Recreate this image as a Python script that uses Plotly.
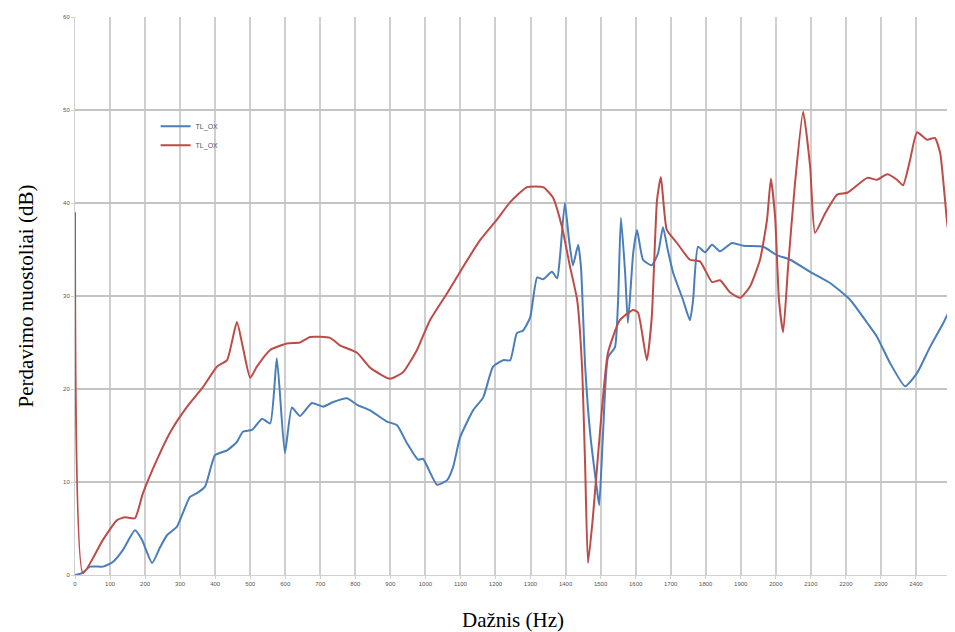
import plotly.graph_objects as go

# Frequency (Hz) / transmission loss (dB)
blue_f = [0, 20, 43, 80, 108, 137, 171, 191, 220, 243, 263, 291, 328, 348, 371, 400, 434, 462, 479, 505,
          534, 557, 576, 599, 619, 642, 676, 708, 737, 776, 805, 842, 890, 919, 947, 979, 993, 1033,
          1062, 1079, 1099, 1136, 1165, 1193, 1222, 1242, 1261, 1279, 1299, 1319, 1336, 1361, 1376,
          1384, 1398, 1410, 1421, 1436, 1444, 1456, 1470, 1490, 1496, 1507, 1521, 1541, 1550, 1558,
          1570, 1578, 1593, 1604, 1621, 1646, 1664, 1678, 1692, 1707, 1735, 1755, 1764, 1778, 1798,
          1818, 1841, 1875, 1907, 1964, 2003, 2041, 2098, 2155, 2212, 2261, 2289, 2326, 2369, 2403,
          2440, 2478, 2500]
blue_db = [0.0, 0.2, 0.9, 0.9, 1.4, 2.7, 4.8, 3.8, 1.3, 3.0, 4.3, 5.2, 8.4, 8.8, 9.5, 12.9, 13.4, 14.3, 15.4, 15.6,
           16.8, 16.3, 23.3, 13.1, 18.0, 17.1, 18.5, 18.1, 18.6, 19.0, 18.3, 17.7, 16.5, 16.1, 14.2, 12.4, 12.5, 9.7,
           10.2, 11.6, 14.8, 17.7, 19.1, 22.4, 23.1, 23.1, 26.0, 26.3, 27.7, 32.0, 31.8, 32.6, 31.9,
           34.2, 40.0, 36.0, 33.3, 35.5, 33.1, 22.4, 15.3, 9.1, 7.5, 15.3, 23.4, 24.5, 29.6, 38.4,
           32.5, 27.1, 34.6, 37.1, 33.9, 33.3, 34.6, 37.4, 34.9, 32.5, 29.6, 27.4, 29.6, 35.3, 34.7,
           35.5, 34.8, 35.7, 35.4, 35.3, 34.4, 33.9, 32.6, 31.4, 29.6, 27.1, 25.6, 22.8, 20.3, 21.7,
           24.5, 27.1, 28.8]

red_f = [0, 23, 80, 120, 143, 171, 194, 234, 271, 320, 365, 405, 434, 462, 479, 500, 519, 557, 605, 642,
         671, 728, 756, 805, 842, 899, 936, 976, 1013, 1062, 1107, 1156, 1204, 1242, 1290, 1336, 1364,
         1390, 1413, 1433, 1447, 1456, 1464, 1478, 1498, 1521, 1555, 1593, 1607, 1632, 1646, 1661,
         1672, 1689, 1718, 1755, 1784, 1818, 1841, 1869, 1898, 1926, 1955, 1975, 1986, 1998, 2009,
         2021, 2035, 2055, 2078, 2098, 2112, 2141, 2175, 2204, 2261, 2289, 2318, 2346, 2363, 2383,
         2403, 2432, 2454, 2469, 2483, 2492, 2500]
red_db = [39.0, 0.2, 3.8, 5.9, 6.2, 6.1, 8.8, 12.4, 15.3, 18.1, 20.2, 22.4, 23.1, 27.2, 24.5, 21.2, 22.4, 24.2, 24.9, 25.0,
          25.6, 25.5, 24.7, 23.9, 22.3, 21.1, 21.8, 24.2, 27.4, 30.3, 33.1, 36.0, 38.2, 40.1, 41.7, 41.7, 40.6,
          37.4, 33.1, 29.6, 22.4, 11.6, 1.3, 6.2, 15.3, 23.9, 27.4, 28.5, 28.2, 23.1, 27.7, 40.3,
          42.8, 37.1, 35.7, 33.9, 33.7, 31.5, 31.7, 30.4, 29.8, 31.0, 33.9, 38.2, 42.6, 38.5, 29.6,
          26.1, 33.1, 42.2, 49.8, 43.9, 36.8, 38.9, 40.9, 41.1, 42.7, 42.5, 43.1, 42.5, 41.9, 44.6,
          47.6, 46.8, 47.0, 45.4, 40.3, 36.9, 38.5]

series_names = ["TL_OX", "TL_OX"]
x_ticks = list(range(0, 2501, 100))
y_ticks = list(range(0, 61, 10))

fig = go.Figure()
fig.add_trace(go.Scatter(x=blue_f, y=blue_db, mode="lines", name=series_names[0],
                         line=dict(color="#4a7ebb", width=2, shape="spline", smoothing=0.5)))
fig.add_trace(go.Scatter(x=red_f, y=red_db, mode="lines", name=series_names[1],
                         line=dict(color="#be4b48", width=2, shape="spline", smoothing=0.5)))

# page body has an 8px margin, so the figure is sized to fit the window
fig.update_layout(
    width=947, height=624,
    margin=dict(l=67, r=4, t=9, b=57, autoexpand=False),
    paper_bgcolor="white", plot_bgcolor="white",
    font=dict(family="Liberation Serif", color="#000000"),
    showlegend=True,
    legend=dict(x=0.092, y=0.83, xanchor="left", yanchor="top",
                bgcolor="rgba(0,0,0,0)", font=dict(size=7, family="Arial", color="#555555"),
                tracegroupgap=2, itemwidth=30),
)
fig.update_xaxes(range=[0, 2500], tickvals=x_ticks, ticktext=[str(v) for v in x_ticks],
                 tickfont=dict(size=6, family="Arial", color="#555555"), automargin=False,
                 showgrid=True, gridcolor="#cfcfcf", gridwidth=1.5,
                 showline=True, linecolor="#d0d0d0", zeroline=False,
                 ticks="outside", ticklen=3, tickcolor="#d0d0d0",
                 title=dict(text="Dažnis (Hz)", font=dict(size=21, family="Liberation Serif"), standoff=34))
fig.update_yaxes(range=[0, 60], tickvals=y_ticks, ticktext=[str(v) for v in y_ticks],
                 tickfont=dict(size=6, family="Arial", color="#555555"), automargin=False,
                 showgrid=True, gridcolor="#c4c4c4", gridwidth=1.5,
                 showline=True, linecolor="#d0d0d0", zeroline=False,
                 ticks="outside", ticklen=3, tickcolor="#d0d0d0",
                 title=dict(text="Perdavimo nuostoliai (dB)", font=dict(size=21, family="Liberation Serif"), standoff=23))

fig.write_html("out.html")
